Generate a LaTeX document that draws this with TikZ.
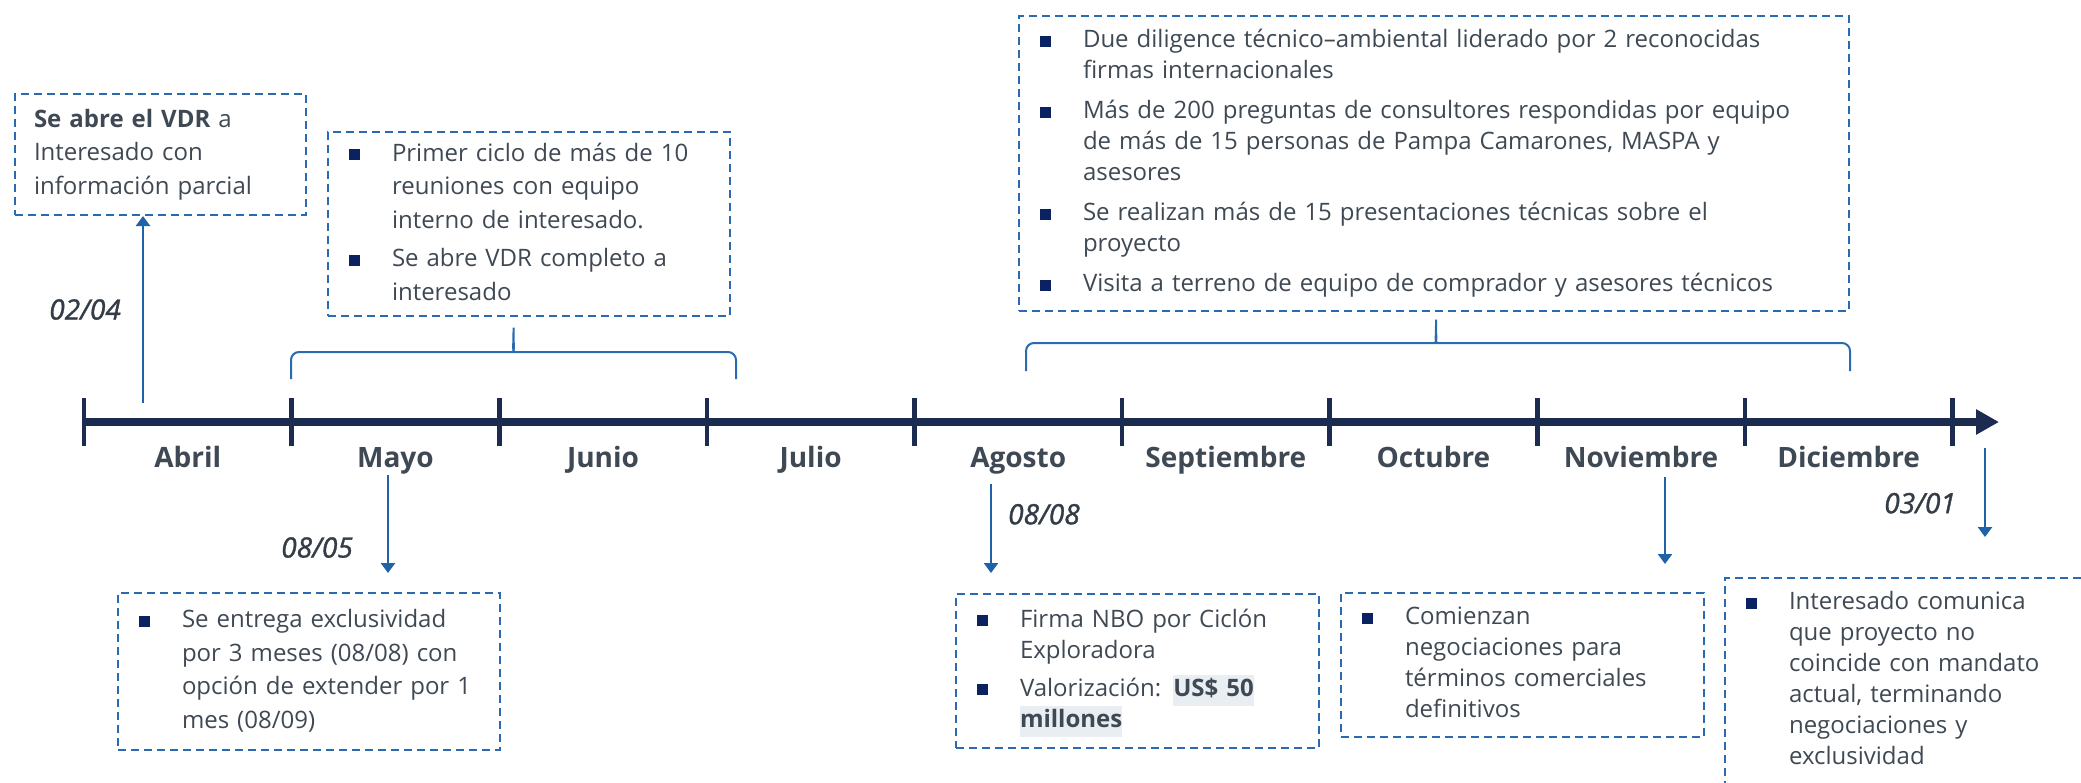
\documentclass[tikz,border=0pt]{standalone}
\usepackage{fontspec}
\setmainfont{Open Sans}
\usetikzlibrary{arrows.meta}

\definecolor{tlink}{HTML}{3F4954}
\definecolor{tldark}{HTML}{343D47}
\definecolor{tlnavy}{HTML}{1C2B50}
\definecolor{tlline}{HTML}{2A6AB0}
\definecolor{tlblue}{HTML}{1F62A8}
\definecolor{tlsq}{HTML}{0B2262}
\definecolor{tlhl}{HTML}{E8EEF2}

% bullet item, gap between items, highlighted words
\newcommand\tlbul[1]{\noindent\makebox[21.5pt][l]{\strut\textcolor{tlsq}{\rule[0.45pt]{5.5pt}{5.5pt}}}%
  \parbox[t]{\dimexpr\hsize-21.5pt\relax}{\raggedright #1\strut}\par}
\newcommand\tlnext[1][1.5pt]{\vspace{#1}}
\newcommand\tlhigh[1]{{\setlength{\fboxsep}{0pt}\colorbox{tlhl}{\strut\textbf{#1}}}}

\begin{document}
\begin{tikzpicture}[x=0.5pt,y=-0.5pt,
    tlbox/.style={draw=tlline,line width=1pt,dash pattern=on 4pt off 2.5pt,anchor=north west,
      inner xsep=10.5pt,inner ysep=0pt,align=left,text=tlink,font=\fontsize{12}{15.5}\selectfont},
    tlwide/.style={font=\fontsize{12}{16.75}\selectfont},
    tlmonth/.style={text=tlink,font=\fontsize{14}{16}\selectfont\bfseries,anchor=base},
    tldate/.style={text=tldark,font=\fontsize{14}{16}\selectfont\itshape\addfontfeature{FakeBold=1.2},inner sep=0pt},
    tltick/.style={tlnavy,line width=2.3pt},
    tlaxis/.style={tlnavy,line width=4pt,-{Triangle[length=11.5pt,width=12pt]}},
    tlarrow/.style={tlblue,line width=1.2pt,-{Triangle[length=5pt,width=7pt]}},
    tlbrace/.style={tlline,line width=1pt,rounded corners=4pt}]

  \useasboundingbox (0,0) rectangle (2081,782);
  \clip (0,0) rectangle (2081,782);
  \fill[white] (0,0) rectangle (2081,782);

  % axis
  \draw[tlaxis] (84,422) -- (1999,422);
  \foreach[evaluate={84+207.6*\i} as \x] \i in {0,...,9} {
    \draw[tltick] (\x,398) -- (\x,446);
  }
  \foreach[evaluate={187.8+207.6*\i} as \x] \i/\m in {0/Abril,1/Mayo,2/Junio,3/Julio,4/Agosto,
      5/Septiembre,6/Octubre,7/Noviembre,8/Diciembre} {
    \node[tlmonth] (m\i) at (\x,467) {\m};
  }

  % boxes above
  \node[tlbox,tlwide,minimum width=145.5pt,minimum height=60.5pt,text width=126.5pt,inner xsep=9.5pt] (vdr) at (14,93)
    {\textbf{Se abre el VDR} a\newline Interesado con\newline información parcial};
  \node[tlbox,tlwide,minimum width=201pt,minimum height=92pt,text width=180pt] (ciclo) at (327,131)
    {\tlbul{Primer ciclo de más de 10\newline reuniones con equipo\newline interno de interesado.}\tlnext
     \tlbul{Se abre VDR completo a\newline interesado}};
  \node[tlbox,minimum width=415pt,minimum height=147.5pt,text width=394pt] (dd) at (1018,15)
    {\tlbul{Due diligence técnico–ambiental liderado por 2 reconocidas\newline firmas internacionales}\tlnext[3.5pt]
     \tlbul{Más de 200 preguntas de consultores respondidas por equipo\newline de más de 15 personas de Pampa Camarones, MASPA y\newline asesores}\tlnext[3.5pt]
     \tlbul{Se realizan más de 15 presentaciones técnicas sobre el\newline proyecto}\tlnext[3.5pt]
     \tlbul{Visita a terreno de equipo de comprador y asesores técnicos}};

  % boxes below
  \node[tlbox,tlwide,minimum width=191pt,minimum height=78.5pt,text width=170pt] (excl) at (117,592)
    {\tlbul{Se entrega exclusividad\newline por 3 meses (08/08) con\newline opción de extender por 1\newline mes (08/09)}};
  \node[tlbox,minimum width=181.5pt,minimum height=77pt,text width=160.5pt] (nbo) at (955,593)
    {\tlbul{Firma NBO por Ciclón\newline Exploradora}\tlnext[2.5pt]
     \tlbul{Valorización: \tlhigh{US\$ 50}\newline\tlhigh{millones}}};
  \node[tlbox,minimum width=181.5pt,minimum height=72pt,text width=160.5pt] (nego) at (1340,592)
    {\tlbul{Comienzan\newline negociaciones para\newline términos comerciales\newline definitivos}};
  \node[tlbox,minimum width=200pt,minimum height=103pt,text width=179pt] (fin) at (1724,577)
    {\tlbul{Interesado comunica\newline que proyecto no\newline coincide con mandato\newline actual, terminando\newline negociaciones y\newline exclusividad}};

  % braces
  \draw[tlbrace] (291,379) |- (507,352) .. controls (512,352) and (513.5,348) .. (513.5,323)
    .. controls (513.5,348) and (515,352) .. (520,352) -| (736,379);
  \draw[tlbrace] (1026,371) |- (1430,343) .. controls (1434.5,343) and (1436,339) .. (1436,315)
    .. controls (1436,339) and (1437.5,343) .. (1442,343) -| (1850,371);

  % events
  \coordinate (s1) at (143,403);
  \coordinate (s2) at (388,475);
  \coordinate (e2) at (388,573);
  \coordinate (s3) at (991,484);
  \coordinate (e3) at (991,573);
  \coordinate (s4) at (1665,477);
  \coordinate (e4) at (1665,564);
  \coordinate (s5) at (1985,448);
  \coordinate (e5) at (1985,537);
  \draw[tlarrow] (s1) -- (vdr.south -| s1) node[tldate,midway,left=10.5pt] {02/04};
  \draw[tlarrow] (s2) -- (e2) node[tldate,pos=0.74,left=17pt] {08/05};
  \draw[tlarrow] (s3) -- (e3) node[tldate,pos=0.34,right=8pt] {08/08};
  \draw[tlarrow] (s4) -- (e4);
  \draw[tlarrow] (s5) -- (e5) node[tldate,pos=0.62,left=14pt] {03/01};
\end{tikzpicture}
\end{document}
